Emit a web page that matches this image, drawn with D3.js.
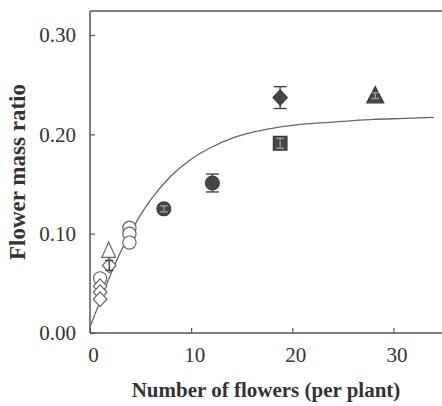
<!DOCTYPE html>
<html><head><meta charset="utf-8">
<script src="https://cdn.jsdelivr.net/npm/d3@7"></script>
<style>html,body{margin:0;padding:0;background:#fff;}svg{display:block;}</style>
</head><body>
<svg id="c" width="442" height="406"></svg>
<script>
// ---- data ----
const xTicks = [0, 10, 20, 30];
const yTicks = [0, 0.1, 0.2, 0.3];
const curveX = [0, 1, 2, 3, 4, 5, 6, 8, 10, 12, 14, 16, 18, 20, 22, 25, 28, 31, 34];
const curveY = [0.006, 0.032, 0.058, 0.081, 0.101, 0.119, 0.134, 0.158, 0.175, 0.187, 0.196, 0.202, 0.206, 0.209, 0.211, 0.213, 0.215, 0.216, 0.217];
const ptX = [1.0, 1.0, 1.0, 1.0, 1.85, 1.9, 3.9, 3.9, 3.9, 7.3, 12.1, 18.8, 18.8, 28.2];
const ptY = [0.055, 0.047, 0.041, 0.034, 0.083, 0.068, 0.106, 0.100, 0.091, 0.125, 0.151, 0.237, 0.191, 0.239];
const ptErr = [0, 0, 0, 0, 0, 0.005, 0, 0, 0, 0.003, 0.009, 0.011, 0.005, 0.003];
const ptShape = ["circle", "diamond", "diamond", "diamond", "triangle", "diamond", "circle", "circle", "circle", "circle", "circle", "diamond", "square", "triangle"];
const ptFilled = [false, false, false, false, false, false, false, false, false, true, true, true, true, true];

// ---- layout ----
const svg = d3.select("#c");
const x = d3.scaleLinear().domain([0, 35]).range([90, 444]);
const y = d3.scaleLinear().domain([0, 0.3]).range([333, 35]);
const axisCol = "#555";
const textCol = "#333";
const FF = '"Liberation Serif"';

svg.append("line").attr("x1", 90).attr("x2", 442).attr("y1", 11).attr("y2", 11)
  .attr("stroke", axisCol).attr("stroke-width", 1.5);

const xAxis = svg.append("g").attr("transform", "translate(0,333)")
  .call(d3.axisBottom(x).tickValues(xTicks).tickSizeInner(-5).tickSizeOuter(0).tickPadding(14).tickFormat(d3.format("d")));
const yAxis = svg.append("g").attr("transform", "translate(90,0)")
  .call(d3.axisLeft(y).tickValues(yTicks).tickSizeInner(-5).tickSizeOuter(0).tickPadding(14).tickFormat(d3.format(".2f")));
[xAxis, yAxis].forEach(a => {
  a.attr("font-family", null).attr("font-size", null);
  a.select(".domain").attr("stroke", axisCol).attr("stroke-width", 1.5);
  a.selectAll(".tick line").attr("stroke", axisCol).attr("stroke-width", 1.2);
  a.selectAll("text").attr("fill", textCol).style("font-family", FF).attr("font-size", 21);
});
xAxis.selectAll(".tick text").attr("dx", 3);
yAxis.select(".domain").attr("d", "M0,11V333");
xAxis.select(".domain").attr("d", "M90,0H442");

// curve
svg.append("path")
  .datum(curveX.map((d, i) => [d, curveY[i]]))
  .attr("fill", "none").attr("stroke", "#666").attr("stroke-width", 1.3)
  .attr("d", d3.line().x(d => x(d[0])).y(d => y(d[1])).curve(d3.curveMonotoneX));

// markers
function shapePath(s, filled) {
  const k = filled ? 1.05 : 1;
  if (s === "circle") { const r = 6.6 * k; return `M${r},0A${r},${r} 0 1,1 ${-r},0A${r},${r} 0 1,1 ${r},0Z`; }
  if (s === "diamond") { const w = 6.8 * k, h = 7.4 * k; return `M0,${-h}L${w},0L0,${h}L${-w},0Z`; }
  if (s === "square") { const a = 6.8; return `M${-a},${-a}H${a}V${a}H${-a}Z`; }
  if (s === "triangle") { const w = filled ? 8.5 : 6.8, h = filled ? 9 : 8.5; return `M0,${-h}L${w},${h * 0.8}L${-w},${h * 0.8}Z`; }
}
const pts = ptX.map((d, i) => ({ x: d, y: ptY[i], e: ptErr[i], s: ptShape[i], f: ptFilled[i] }));

const g = svg.append("g");
pts.forEach(p => {
  const cx = x(p.x), cy = y(p.y);
  g.append("path").attr("transform", `translate(${cx},${cy})`)
    .attr("d", shapePath(p.s, p.f))
    .attr("fill", p.f ? "#474747" : "#fff")
    .attr("stroke", p.f ? "#3a3a3a" : "#666")
    .attr("stroke-width", 1.2);
  if (p.e > 0) {
    const col = p.f && p.e < 0.007 ? "#999" : "#444";
    const y1 = y(p.y + p.e), y2 = y(p.y - p.e), cw = p.e < 0.007 ? 4 : 6.5;
    const eg = g.append("g").attr("stroke", col).attr("stroke-width", 1.4);
    eg.append("line").attr("x1", cx).attr("x2", cx).attr("y1", y1).attr("y2", y2);
    eg.append("line").attr("x1", cx - cw).attr("x2", cx + cw).attr("y1", y1).attr("y2", y1);
    eg.append("line").attr("x1", cx - cw).attr("x2", cx + cw).attr("y1", y2).attr("y2", y2);
  }
});

// axis titles
svg.append("text").attr("x", 266).attr("y", 397).attr("text-anchor", "middle")
  .style("font-family", FF).attr("font-weight", "bold").attr("font-size", 21)
  .attr("fill", textCol).text("Number of flowers (per plant)");
svg.append("text").attr("transform", "translate(25,172) rotate(-90)").attr("text-anchor", "middle")
  .style("font-family", FF).attr("font-weight", "bold").attr("font-size", 23)
  .attr("fill", textCol).text("Flower mass ratio");
</script>
</body></html>
